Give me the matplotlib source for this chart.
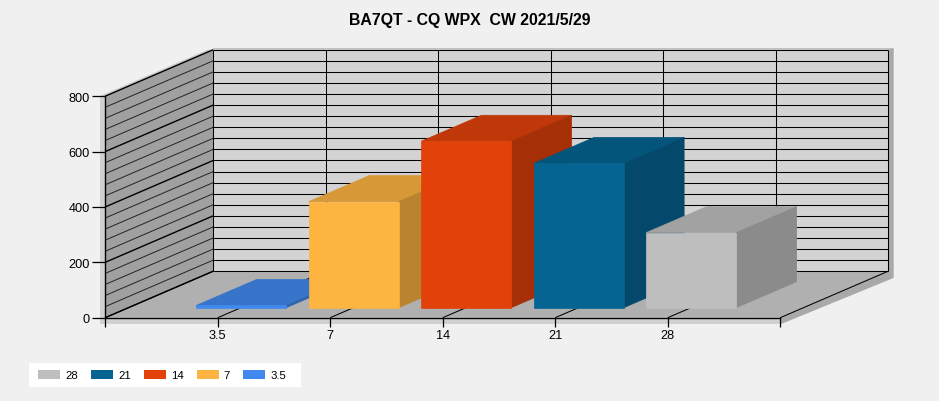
import numpy as np
import matplotlib
matplotlib.use('Agg')
import matplotlib.pyplot as plt
from matplotlib.patches import Polygon, Patch, Rectangle

plt.rcParams['font.family'] = ['Liberation Sans', 'DejaVu Sans']

# data
bands = ['3.5', '7', '14', '21', '28']
qsos = [8, 383, 601, 521, 271]
colors = ['#4189ee', '#fdb441', '#e2420a', '#056492', '#bebebe']
title = 'BA7QT - CQ WPX  CW 2021/5/29'
y_ticks = [0, 200, 400, 600, 800]
y_grid = list(range(0, 801, 40))
x_slots = 6

# look of the fake 3d box (front plane = the real axes)
fig_w, fig_h = 939, 402
left, right, top, bottom = 105.2, 780.2, 97.2, 318.7
px_x = x_slots / (right - left)
px_y = 800 / (bottom - top)
depth_x = 108 * px_x
depth_y = 46.5 * px_y
bar_half = 0.402
bar_d0, bar_d1 = 0.215, 0.775


def proj(x, v, d=0.0):
    return (x + d * depth_x, v + d * depth_y)


def shade(col, f):
    rgb = np.array(matplotlib.colors.to_rgb(col)) * f
    return tuple(rgb)


fig = plt.figure(figsize=(fig_w / 100, fig_h / 100), dpi=100, facecolor='#f0f0f0')
ax = fig.add_axes([left / fig_w, 1 - bottom / fig_h,
                   (right - left) / fig_w, (bottom - top) / fig_h])
ax.patch.set_visible(False)
ax.set_xlim(0, x_slots)
ax.set_ylim(0, 800)


def face(pts, col, z, edge=None, lw=0.0):
    ax.add_patch(Polygon(pts, closed=True, facecolor=col,
                         edgecolor=edge if edge else col, linewidth=lw,
                         zorder=z, clip_on=False))


def line(a, b, lw=0.75, col='black', z=1.5):
    ax.plot([a[0], b[0]], [a[1], b[1]], color=col, lw=lw, zorder=z,
            clip_on=False, solid_capstyle='butt')


# shadows around the box
sx = 5.5 * px_x
sy = 6.7 * px_y
face([(-sx, 800), proj(-sx, 800, 1) , proj(0, 800, 1), (0, 800)], '#c8c8c8', 0.5)
face([(-sx, -sy), (-sx, 800), (0, 800), (0, -sy)], '#d0d0d0', 0.5)
face([(-sx, -sy), (x_slots, -sy), (x_slots, 0), (-sx, 0)], '#d0d0d0', 0.5)
face([(x_slots, 0), proj(x_slots, 0, 1), proj(x_slots, 800, 1),
      (x_slots + depth_x + sx, 800 + depth_y + 0.6 * px_y * 3),
      (x_slots + depth_x + sx, depth_y - sy),
      (x_slots, -sy)], '#a9a9a9', 0.5)
face([proj(0, 800, 1), (depth_x, 800 + depth_y + 1.5 * px_y),
      (x_slots + depth_x + sx, 800 + depth_y + 1.5 * px_y),
      proj(x_slots, 800, 1)], '#b5b5b5', 0.5)

# walls and floor
face([proj(0, 0, 1), proj(x_slots, 0, 1), proj(x_slots, 800, 1), proj(0, 800, 1)], '#d3d3d3', 1)
face([proj(0, 0, 0), proj(0, 0, 1), proj(0, 800, 1), proj(0, 800, 0)], '#a0a0a0', 1)
face([proj(0, 0, 0), proj(x_slots, 0, 0), proj(x_slots, 0, 1), proj(0, 0, 1)], '#b0b0b0', 1)

# grid
for v in y_grid:
    line(proj(0, v, 1), proj(x_slots, v, 1))
    major = v in y_ticks
    line(proj(0, v, 0), proj(0, v, 1), lw=1.0 if major else 0.7,
         col='black' if major else '#222222')
for k in range(x_slots + 1):
    line(proj(k, 0, 1), proj(k, 800, 1))
    line(proj(k, 0, 0), proj(k, 0, 1))

# bars, left to right so the next one hides the side of the last
for i in range(len(bands)):
    x0 = i + 1 - bar_half + 0.004
    x1 = i + 1 + bar_half
    v = qsos[i]
    col = colors[i]
    z = 3 + i * 0.1
    face([proj(x0, v, bar_d0), proj(x0, v, bar_d1), proj(x1, v, bar_d1), proj(x1, v, bar_d0)],
         shade(col, 0.85), z, lw=0.5)
    face([proj(x1, 0, bar_d0), proj(x1, 0, bar_d1), proj(x1, v, bar_d1), proj(x1, v, bar_d0)],
         shade(col, 0.73), z, lw=0.5)
    face([proj(x0, 0, bar_d0), proj(x1, 0, bar_d0), proj(x1, v, bar_d0), proj(x0, v, bar_d0)],
         col, z, lw=0.5)

# axes
for s in ['top', 'right']:
    ax.spines[s].set_visible(False)
for s in ['left', 'bottom']:
    ax.spines[s].set_linewidth(1.0)
    ax.spines[s].set_zorder(2.5)
ax.set_yticks(y_ticks)
ax.set_xticks(range(x_slots + 1))
ax.set_xticklabels([''] + bands + [''])
ax.tick_params(axis='y', length=9.5, width=0.9, pad=1.5, labelsize=9.2)
ax.tick_params(axis='x', length=6.5, width=0.9, pad=1.5, labelsize=9.2)

fig.text(0.5, 1 - 20 / fig_h, title, ha='center', va='center',
         fontsize=11.4, fontweight='bold', color='black')

# legend, reversed like the original; white box is wider than its content
fig.add_artist(Rectangle((29 / fig_w, 1 - 388 / fig_h), 272 / fig_w, 24 / fig_h,
                         transform=fig.transFigure, facecolor='white', edgecolor='none'))
handles = [Patch(facecolor=colors[i], edgecolor='none', label=bands[i])
           for i in range(len(bands) - 1, -1, -1)]
leg = fig.legend(handles=handles, ncol=5, loc='center left',
                 bbox_to_anchor=(38 / fig_w, 1 - 376 / fig_h),
                 frameon=False, fontsize=8.2, handlelength=1.95, handleheight=0.8,
                 handletextpad=0.45, columnspacing=1.12, borderpad=0, borderaxespad=0)

fig.savefig('out.png', dpi=100, facecolor=fig.get_facecolor())
